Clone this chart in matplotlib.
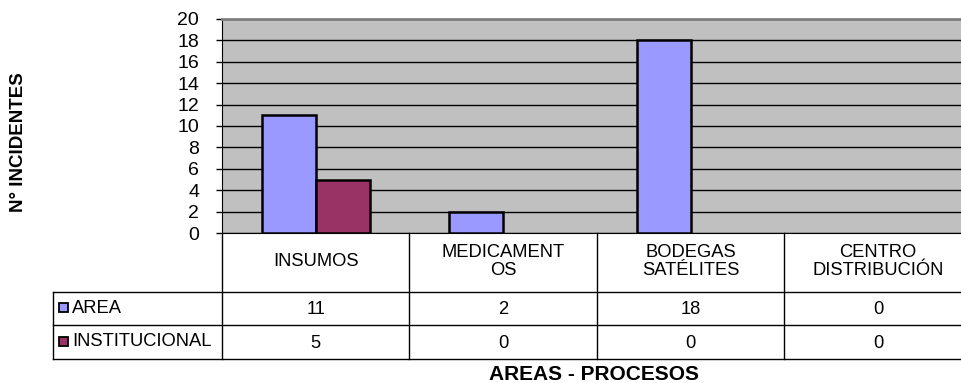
import matplotlib
matplotlib.use("Agg")
import matplotlib.pyplot as plt
from matplotlib.patches import Rectangle

plt.rcParams['font.family'] = ['Liberation Sans', 'DejaVu Sans']

categories = ["INSUMOS", "MEDICAMENT\nOS", "BODEGAS\nSATÉLITES", "CENTRO\nDISTRIBUCIÓN"]
series_names = ["AREA", "INSTITUCIONAL"]
area = [11, 2, 18, 0]
institucional = [5, 0, 0, 0]
series_values = [area, institucional]
series_colors = ["#9999FF", "#993366"]
y_ticks = list(range(0, 21, 2))

W, H = 961, 383
fig = plt.figure(figsize=(W / 100, H / 100), dpi=100)

# pixel geometry of the plot area and the data table
x0, col_w = 222, 187.5
y_top, y_base = 19, 233
row_edges = [0, 59, 92, 126]          # table rows, pixels below the axis line
label_left = 53

def fx(px):
    return px / W

def fy(py):
    return (H - py) / H

n = len(categories)
ax = fig.add_axes([fx(x0), fy(y_base), n * col_w / W, (y_base - y_top) / H])
ax.set_facecolor("#C0C0C0")
ax.set_xlim(0, n)
ax.set_ylim(0, 20)
ax.set_yticks(y_ticks)
ax.set_xticks([])
ax.yaxis.grid(True, color="black", linewidth=1.0)
ax.set_axisbelow(True)
ax.tick_params(axis="y", length=4.4, width=1, pad=12, labelsize=14, colors="black")
ax.spines["right"].set_visible(False)
ax.spines["top"].set_color("#808080")
ax.spines["top"].set_linewidth(2)
ax.spines["left"].set_color("black")
ax.spines["bottom"].set_color("black")

bar_w = 54 / col_w
for s, (vals, color) in enumerate(zip(series_values, series_colors)):
    pts = [(i + 0.5 + (s - 0.5) * bar_w, v) for i, v in enumerate(vals) if v > 0]
    ax.bar([p[0] for p in pts], [p[1] for p in pts], width=bar_w, color=color,
           edgecolor="black", linewidth=1.8, zorder=3)

# data table beneath the plot, sharing the category positions
tx_left = (label_left - x0) / col_w
tab = fig.add_axes([fx(label_left), fy(y_base + row_edges[-1]),
                    (x0 + n * col_w - label_left) / W, row_edges[-1] / H])
tab.set_xlim(tx_left, n)
tab.set_ylim(row_edges[-1], 0)
tab.axis("off")

lk = dict(color="black", linewidth=1.0, clip_on=False)
for i in range(n):
    tab.plot([i, i], [0, row_edges[-1]], **lk)
tab.plot([tx_left, tx_left], [row_edges[1], row_edges[-1]], **lk)
for yy in row_edges[1:]:
    tab.plot([tx_left, n], [yy, yy], **lk)

fs = 13.2
head_mid = (row_edges[0] + row_edges[1]) / 2
for i, cat in enumerate(categories):
    tab.text(i + 0.5, head_mid - 1, cat, ha="center", va="center",
             fontsize=fs, linespacing=1.15)

key_px = 9
for r, (name, vals, color) in enumerate(zip(series_names, series_values, series_colors)):
    mid = (row_edges[r + 1] + row_edges[r + 2]) / 2
    tab.add_patch(Rectangle(((59 - x0) / col_w, mid - key_px / 2 - 1), key_px / col_w, key_px,
                            facecolor=color, edgecolor="black", linewidth=1.3,
                            clip_on=False))
    tab.text((72 - x0) / col_w, mid, name, ha="left", va="center", fontsize=fs)
    for i, v in enumerate(vals):
        tab.text(i + 0.5, mid + 1, str(v), ha="center", va="center", fontsize=fs)

fig.text(fx(594), fy(374), "AREAS - PROCESOS", ha="center", va="center",
         fontsize=15, fontweight="bold")
fig.text(fx(19), fy(142), "N° INCIDENTES", ha="center", va="center",
         rotation=90, fontsize=13.5, fontweight="bold")

fig.savefig("out.png", dpi=100)
